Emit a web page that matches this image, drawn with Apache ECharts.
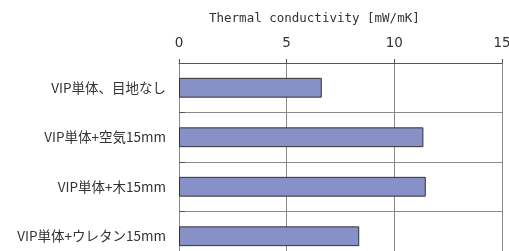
<!DOCTYPE html>
<html>
<head>
    <meta charset="utf-8">
    <title>Thermal conductivity</title>
    <script type="text/javascript" src="https://cdn.jsdelivr.net/npm/echarts@6/dist/echarts.min.js"></script>
</head>
<body style="margin:0;">
<div id="main" style="width:509px;height:251px;"></div>
<script type="text/javascript">
    // 各ケースの熱伝導率
    var categories = ['VIP単体、目地なし', 'VIP単体+空気15mm', 'VIP単体+木15mm', 'VIP単体+ウレタン15mm'];
    var values = [6.63, 11.35, 11.46, 8.37];
    var xTicks = [0, 5, 10, 15];

    var myChart = echarts.init(document.getElementById('main'));
    myChart.setOption({
        animation: false,
        textStyle: {fontFamily: '"Noto Sans CJK JP", sans-serif'},
        title: {
            text: 'Thermal conductivity [mW/mK]',
            left: 204,
            top: 7,
            textStyle: {color: '#333', fontSize: 12.5, fontWeight: 'normal', fontFamily: '"DejaVu Sans Mono", monospace'}
        },
        // 下端は画面外まで続く
        grid: {left: 179, top: 63, width: 323, height: 198, outerBoundsMode: 'none'},
        xAxis: {
            type: 'value',
            position: 'top',
            min: xTicks[0],
            max: xTicks[xTicks.length - 1],
            interval: 5,
            axisLine: {show: true, lineStyle: {color: '#555', width: 1}},
            axisTick: {show: true, inside: false, length: 4, lineStyle: {color: '#555'}},
            axisLabel: {color: '#333', fontSize: 13.5, margin: 13, fontFamily: '"DejaVu Sans", sans-serif'},
            splitLine: {show: true, lineStyle: {color: '#8a8a8a', width: 1}}
        },
        yAxis: {
            type: 'category',
            inverse: true,
            data: categories,
            axisLine: {show: true, lineStyle: {color: '#8a8a8a', width: 1}},
            axisTick: {show: true, inside: true, length: 6, lineStyle: {color: '#555'}},
            axisLabel: {color: '#333', fontSize: 13.5, margin: 13},
            splitLine: {show: true, lineStyle: {color: '#8a8a8a', width: 1}}
        },
        series: [{
            type: 'bar',
            data: values,
            barWidth: '40%',
            itemStyle: {color: '#8890c8', borderColor: '#333', borderWidth: 1}
        }]
    });
</script>
</body>
</html>
